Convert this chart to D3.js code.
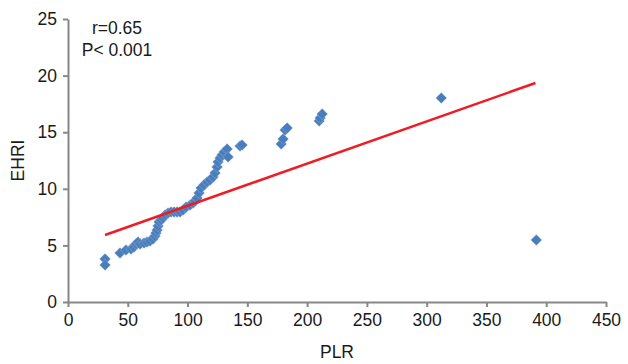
<!DOCTYPE html>
<html>
<head>
<meta charset="utf-8">
<script src="https://cdn.jsdelivr.net/npm/d3@7"></script>
<style>
  body { margin: 0; background: #fff; }
  text { font-family: "Liberation Sans", Arial, sans-serif; fill: #1a1a1a; }
</style>
</head>
<body>
<div id="chart"></div>
<script>
'use strict';

// PLR values (x) and EHRI values (y)
var plr = [31, 31, 43.5, 48.5, 52.7, 55.2, 56.9, 58.6, 60.3, 63.6,
    66.1, 68.6, 71.1, 72.8, 73.6, 74.5, 75.3, 76.2, 77.8, 79.5,
    81.2, 83.7, 86.2, 88.7, 91.2, 93.7, 96.2, 98.8, 102.1, 104.6,
    106.3, 108, 109.6, 111.3, 113.8, 116.3, 118.8, 121.3, 123, 124.7,
    125.5, 127.2, 128.9, 130.6, 133.1, 133.9, 143.9, 145.6, 178.3, 179.9,
    181.6, 183.3, 210.1, 210.9, 212.6, 312.2, 391.7];
var ehri = [3.8, 3.27, 4.33, 4.59, 4.68, 4.86, 5.12, 5.3, 5.12, 5.21,
    5.3, 5.39, 5.57, 5.83, 6.1, 6.36, 6.71, 7.07, 7.24, 7.42,
    7.69, 7.86, 7.95, 7.95, 7.95, 7.95, 8.13, 8.39, 8.57, 8.75,
    8.92, 9.19, 9.63, 10.07, 10.34, 10.6, 10.78, 11.04, 11.4, 11.93,
    12.37, 12.72, 12.99, 13.25, 13.52, 12.81, 13.78, 13.87, 13.96, 14.4,
    15.19, 15.37, 15.99, 16.25, 16.61, 18.02, 5.48];

// linear trend line ends
var trendX = [31, 391];
var trendY = [5.92, 19.35];

var xTicks = [0, 50, 100, 150, 200, 250, 300, 350, 400, 450];
var yTicks = [0, 5, 10, 15, 20, 25];

var width = 628, height = 364;
var margin = {top: 19, right: 22, bottom: 62, left: 68};
var fontSize = "17.5px";

var svg = d3.select("#chart").append("svg")
    .attr("width", width)
    .attr("height", height);

var x = d3.scaleLinear()
    .domain([0, 450])
    .range([margin.left, width - margin.right]);
var y = d3.scaleLinear()
    .domain([0, 25])
    .range([height - margin.bottom, margin.top]);

var xAxis = svg.append("g")
    .attr("transform", "translate(0," + y(0) + ")")
    .call(d3.axisBottom(x).tickValues(xTicks).tickSize(5).tickPadding(7).tickSizeOuter(0));
var yAxis = svg.append("g")
    .attr("transform", "translate(" + x(0) + ",0)")
    .call(d3.axisLeft(y).tickValues(yTicks).tickSize(5).tickPadding(6).tickSizeOuter(0));

[xAxis, yAxis].forEach(function (g) {
    g.select(".domain").attr("stroke", "#878787").attr("stroke-width", 2);
    g.selectAll(".tick line").attr("stroke", "#878787").attr("stroke-width", 2);
    g.selectAll(".tick text")
        .style("font-family", '"Liberation Sans", Arial, sans-serif')
        .style("font-size", fontSize)
        .attr("fill", "#1a1a1a");
});

var points = plr.map(function (d, i) { return [d, ehri[i]]; });

var diamond = d3.symbol().type(d3.symbolDiamond2).size(78);

svg.append("g").selectAll("path")
    .data(points)
    .enter().append("path")
    .attr("d", diamond)
    .attr("transform", function (d) {
        return "translate(" + x(d[0]) + "," + y(d[1]) + ")";
    })
    .attr("fill", "#4a7ebb")
    .attr("stroke", "#c9d8ee")
    .attr("stroke-width", 0.5)
    .attr("stroke-opacity", 0.6);

svg.append("line")
    .attr("x1", x(trendX[0]))
    .attr("y1", y(trendY[0]))
    .attr("x2", x(trendX[1]))
    .attr("y2", y(trendY[1]))
    .attr("stroke", "#ee1c25")
    .attr("stroke-width", 2.5);

svg.append("text")
    .attr("x", 117)
    .attr("y", 34)
    .attr("text-anchor", "middle")
    .style("font-size", fontSize)
    .text("r=0.65");
svg.append("text")
    .attr("x", 117)
    .attr("y", 56)
    .attr("text-anchor", "middle")
    .style("font-size", fontSize)
    .text("P< 0.001");

svg.append("text")
    .attr("x", x(225))
    .attr("y", 358)
    .attr("text-anchor", "middle")
    .style("font-size", fontSize)
    .text("PLR");

svg.append("text")
    .attr("transform", "translate(24," + y(12.5) + ") rotate(-90)")
    .attr("text-anchor", "middle")
    .style("font-size", fontSize)
    .text("EHRI");
</script>
</body>
</html>
